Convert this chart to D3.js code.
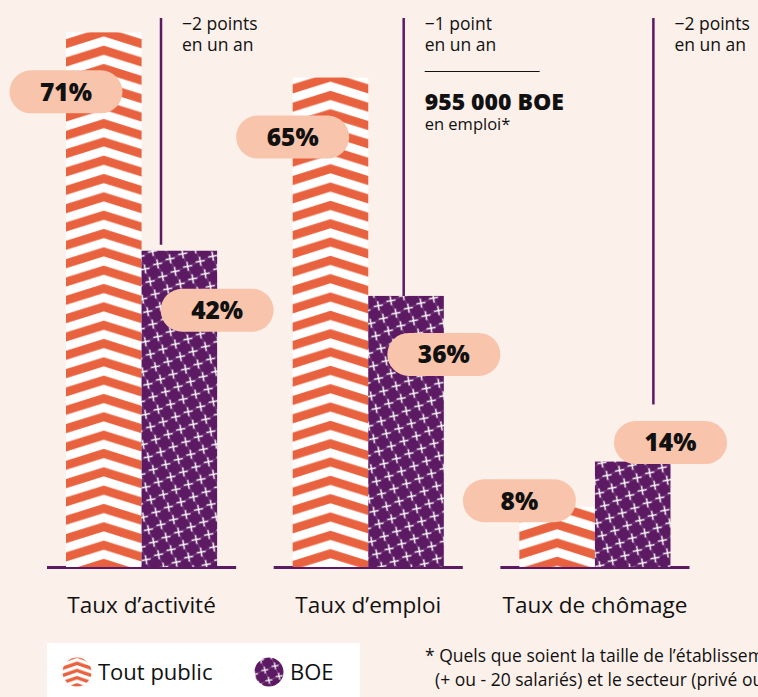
<!DOCTYPE html>
<html><head><meta charset="utf-8">
<script src="https://cdn.jsdelivr.net/npm/d3@7"></script>
<style>
html,body{margin:0;padding:0;background:#fcf0ea;}
svg{display:block;font-family:"Open Sans","Noto Sans",sans-serif;}
</style></head>
<body><svg id="c" width="758" height="697"></svg>
<script>
// ---- data ----
const categories = ["Taux d’activité", "Taux d’emploi", "Taux de chômage"];
const series = ["Tout public", "BOE"];
const toutPublic = [71, 65, 8];
const boe = [42, 36, 14];
const evolution1 = ["−2 points", "−1 point", "−2 points"];
const evolution2 = ["en un an", "en un an", "en un an"];
const highlightValue = "955 000 BOE";
const highlightSub = "en emploi*";
const footnote = ["* Quels que soient la taille de l’établissement", "(+ ou - 20 salariés) et le secteur (privé ou public)"];

// ---- layout (not data) ----
const W = 758, H = 697;
const C = {bg:"#fcf0ea", orange:"#e9623f", purple:"#5c1a63", pill:"#f8c4ab", text:"#111"};
const pillDyTP = [59.5, 59.5, -6];   // pill centre offset from bar top
const pillDyBOE = [59.5, 58.5, -19];
const annoDx = [116, 132, 155];      // annotation text x offset from group start
const lineEnd = [-6, 0, -57];        // vertical line end offset from BOE bar top

const svg = d3.select("#c");
const defs = svg.append("defs");

const x = d3.scaleBand().domain(categories).range([66, 670.5]).paddingInner(1/3).paddingOuter(0);
const xs = d3.scaleBand().domain(series).range([0, x.bandwidth()]);
const y = d3.scaleLinear().domain([0, 100]).range([567, 567 - 753]);

const rows = categories.map((c, i) => ({c, i, tp: toutPublic[i], boe: boe[i]}));

// chevron pattern per bar
const P = 18.33;
function chevronPattern(id, px, py, w, period, off, rise, thick){
  const p = defs.append("pattern").attr("id", id).attr("patternUnits","userSpaceOnUse")
    .attr("x", px).attr("y", py).attr("width", w).attr("height", period);
  p.append("rect").attr("width", w).attr("height", period).attr("fill", C.orange);
  for (let k = -2; k <= 2; k++){
    const b = off + k*period;
    p.append("polygon").attr("fill","#fff").attr("points", [
      [0, b+rise],[w/2, b],[w, b+rise],[w, b+rise+thick],[w/2, b+thick],[0, b+rise+thick]
    ].map(d=>d.join(",")).join(" "));
  }
}
// cross pattern
function crossPattern(id, s, arm, angle, sw){
  const p = defs.append("pattern").attr("id", id).attr("patternUnits","userSpaceOnUse")
    .attr("width", s).attr("height", s).attr("patternTransform", `rotate(${angle})`);
  p.append("rect").attr("width", s).attr("height", s).attr("fill", C.purple);
  p.append("path").attr("d", `M0,${s/2}H${s}M${s/2},0V${s}`).attr("stroke","#fff").attr("stroke-width",0.6).attr("opacity",0.3);
  const g = p.append("g").attr("transform", `translate(${s/2},${s/2}) rotate(${-angle*0.6})`);
  g.append("path").attr("d", `M${-arm},0H${arm}M0,${-arm}V${arm}`).attr("stroke","#fff").attr("stroke-width",sw).attr("opacity",0.95);
}
crossPattern("boePat", 13.5, 4.6, -22, 1.5);
crossPattern("boeLeg", 11, 3.4, -22, 1.3);

const bw = xs.bandwidth();
rows.forEach(r => {
  chevronPattern("tp"+r.i, x(r.c), y(r.tp), bw, P, 4, 12, 9.2);
});
chevronPattern("tpLeg", 62, 657, 30, 7.2, 1, 5, 3.6);

// baselines
svg.append("g").selectAll("line").data(rows).join("line")
  .attr("x1", d => x(d.c) - 19).attr("x2", d => x(d.c) + x.bandwidth() + 19)
  .attr("y1", y(0)+0.5).attr("y2", y(0)+0.5)
  .attr("stroke", C.purple).attr("stroke-width", 3);

// bars
const bars = svg.append("g");
bars.selectAll("rect.tp").data(rows).join("rect").attr("class","tp")
  .attr("x", d => x(d.c) + xs("Tout public")).attr("width", bw)
  .attr("y", d => y(d.tp)).attr("height", d => y(0) - y(d.tp))
  .attr("fill", d => `url(#tp${d.i})`);
bars.selectAll("rect.boe").data(rows).join("rect").attr("class","boe")
  .attr("x", d => x(d.c) + xs("BOE")).attr("width", bw)
  .attr("y", d => y(d.boe)).attr("height", d => y(0) - y(d.boe))
  .attr("fill", "url(#boePat)");

// annotation vertical lines & texts
const anno = svg.append("g");
rows.forEach(r => {
  const tx = x(r.c) + annoDx[r.i];
  anno.append("line").attr("x1", tx - 21).attr("x2", tx - 21)
    .attr("y1", 18).attr("y2", y(r.boe) + lineEnd[r.i])
    .attr("stroke", C.purple).attr("stroke-width", 2.5);
  anno.append("text").attr("fill", C.text).attr("font-size", 17.5)
    .attr("x", tx).attr("y", 30).text(evolution1[r.i]);
  anno.append("text").attr("fill", C.text).attr("font-size", 17.5)
    .attr("x", tx).attr("y", 51).text(evolution2[r.i]);
});
// highlight in group 2
{
  const tx = x(categories[1]) + annoDx[1];
  anno.append("line").attr("x1", tx).attr("x2", tx + 115).attr("y1", 71.5).attr("y2", 71.5)
    .attr("stroke", C.text).attr("stroke-width", 1.2);
  anno.append("text").attr("x", tx).attr("y", 110).attr("font-size", 23).attr("font-weight", 800)
    .attr("fill", C.text).text(highlightValue);
  anno.append("text").attr("x", tx).attr("y", 130).attr("font-size", 16.5)
    .attr("fill", C.text).text(highlightSub);
}

// pills
const pills = svg.append("g");
function pill(cx, cy, label){
  pills.append("rect").attr("x", cx - 56.5).attr("y", cy - 21.5).attr("width", 113).attr("height", 43)
    .attr("rx", 21.5).attr("fill", C.pill);
  pills.append("text").attr("x", cx).attr("y", cy).attr("dy", "0.36em").attr("text-anchor","middle")
    .attr("font-size", 24.5).attr("font-weight", 800).attr("fill", C.text).text(label);
}
rows.forEach(r => {
  pill(x(r.c) + xs("Tout public"), y(r.tp) + pillDyTP[r.i], r.tp + "%");
  pill(x(r.c) + xs("BOE") + bw, y(r.boe) + pillDyBOE[r.i], r.boe + "%");
});

// category labels
svg.append("g").selectAll("text").data(rows).join("text")
  .attr("x", d => x(d.c) + x.bandwidth()/2).attr("y", 613).attr("text-anchor","middle")
  .attr("font-size", 22.5).attr("fill", C.text).text(d => d.c);

// legend
const leg = svg.append("g");
leg.append("rect").attr("x", 47).attr("y", 643).attr("width", 313).attr("height", 60).attr("fill", "#fff");
leg.append("circle").attr("cx", 77).attr("cy", 672).attr("r", 14.5).attr("fill", "url(#tpLeg)");
leg.append("text").attr("x", 98).attr("y", 680).attr("font-size", 22).attr("fill", C.text).text(series[0]);
leg.append("circle").attr("cx", 269).attr("cy", 672).attr("r", 14.5).attr("fill", "url(#boeLeg)");
leg.append("text").attr("x", 290).attr("y", 680).attr("font-size", 22).attr("fill", C.text).text(series[1]);

// footnote (cut at the right edge, as in the original)
const fn = svg.append("g").attr("font-size", 17.5).attr("fill", C.text);
fn.append("text").attr("x", 425).attr("y", 662).text(footnote[0]);
fn.append("text").attr("x", 435).attr("y", 686).text(footnote[1]);
</script></body></html>
